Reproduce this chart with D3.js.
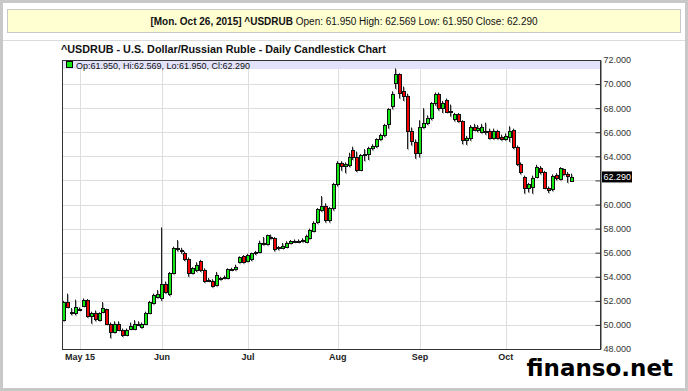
<!DOCTYPE html>
<html>
<head>
<meta charset="utf-8">
<script src="https://cdn.jsdelivr.net/npm/d3@7"></script>
<style>
  body { margin: 0; background: #fff; }
  svg text { font-family: "Liberation Sans", Arial, sans-serif; }
</style>
</head>
<body>
<script>
// trading days (weekdays) of the chart
const firstDay = "2015-04-27";
const lastDay = "2015-10-26";

const opens = [
  50.40, 51.93, 51.10, 50.95, 51.30, 51.60, 52.10, 50.70, 51.00, 50.40,
  51.10, 51.30, 50.10, 49.40, 50.10, 49.60, 49.20, 49.70, 49.70, 50.00,
  49.80, 50.10, 51.00, 51.80, 52.30, 52.20, 53.40, 52.60, 54.30, 56.35,
  56.20, 56.00, 55.50, 54.35, 54.55, 55.30, 54.55, 53.72, 53.67, 53.30,
  53.85, 53.95, 53.86, 54.62, 54.64, 55.25, 55.72, 55.33, 55.44, 55.94,
  56.08, 56.82, 56.71, 57.32, 57.19, 56.35, 56.40, 56.49, 56.82, 56.96,
  57.00, 56.96, 56.90, 57.20, 57.80, 58.57, 59.54, 59.90, 58.70, 59.68,
  61.67, 63.47, 63.20, 63.30, 64.50, 63.97, 62.90, 64.10, 64.20, 64.66,
  64.85, 65.40, 65.77, 66.70, 68.20, 70.10, 70.80, 69.45, 69.00, 66.10,
  65.20, 64.30, 66.46, 66.80, 67.15, 68.40, 69.20, 68.00, 68.70, 67.80,
  67.10, 67.50, 66.90, 65.35, 65.50, 66.40, 66.20, 66.00, 66.10, 66.10,
  65.50, 66.10, 65.63, 65.45, 65.60, 66.18, 64.80, 63.40, 62.30, 61.34,
  61.48, 62.31, 63.05, 62.67, 61.40, 61.28, 62.45, 62.10, 62.95, 62.50,
  61.95
];
const highs = [
  52.00, 52.60, 51.40, 52.10, 51.45, 52.20, 52.15, 51.10, 51.20, 51.05,
  51.90, 51.35, 50.20, 50.30, 50.30, 49.70, 49.70, 50.20, 50.40, 50.30,
  50.20, 51.10, 52.00, 52.60, 52.90, 58.10, 53.60, 54.40, 56.50, 57.05,
  56.40, 56.10, 55.60, 54.80, 55.20, 55.40, 54.70, 53.90, 53.80, 54.40,
  54.00, 54.10, 54.70, 54.75, 55.00, 55.70, 55.80, 55.90, 56.00, 56.15,
  57.00, 57.30, 57.50, 57.50, 57.30, 56.55, 56.80, 56.95, 57.05, 57.10,
  57.10, 57.20, 57.50, 58.00, 58.60, 59.70, 60.70, 60.10, 59.80, 61.80,
  63.60, 63.60, 63.50, 64.30, 64.80, 64.40, 64.20, 64.60, 64.80, 65.00,
  65.50, 65.90, 66.70, 68.00, 69.40, 71.30, 70.90, 69.80, 69.20, 66.40,
  65.40, 67.00, 68.00, 67.40, 68.50, 69.30, 69.30, 68.60, 68.80, 68.30,
  67.60, 67.60, 67.00, 65.70, 66.60, 66.70, 66.60, 66.70, 66.80, 66.30,
  66.30, 66.20, 65.80, 65.90, 66.50, 66.30, 64.90, 63.50, 62.40, 61.80,
  62.40, 63.30, 63.20, 62.80, 61.50, 62.50, 62.60, 63.10, 63.00, 62.70,
  62.569
];
const lows = [
  50.30, 51.40, 50.80, 50.80, 51.15, 51.50, 50.60, 50.10, 50.30, 50.30,
  51.00, 50.00, 48.90, 49.30, 49.50, 49.00, 49.10, 49.60, 49.60, 49.90,
  49.70, 50.00, 50.90, 51.70, 52.20, 52.00, 52.60, 52.40, 54.20, 56.10,
  55.90, 55.30, 54.00, 54.20, 54.40, 54.40, 53.50, 53.60, 53.10, 53.20,
  53.70, 53.80, 53.80, 54.50, 54.50, 55.10, 55.10, 55.20, 55.30, 55.80,
  55.95, 56.60, 56.60, 57.10, 56.10, 56.20, 56.30, 56.40, 56.70, 56.85,
  56.80, 56.85, 56.80, 57.10, 57.70, 58.40, 59.40, 58.50, 58.50, 59.50,
  61.50, 62.80, 62.60, 63.10, 63.70, 62.70, 62.80, 63.60, 63.70, 64.50,
  64.70, 65.30, 65.60, 66.30, 67.90, 69.60, 68.80, 68.60, 64.60, 64.90,
  63.80, 63.90, 66.30, 66.60, 67.00, 68.20, 67.80, 67.60, 67.60, 67.30,
  66.90, 66.80, 65.00, 64.95, 65.30, 66.10, 66.00, 65.90, 65.80, 65.40,
  65.40, 65.40, 65.30, 65.30, 65.20, 64.60, 63.20, 62.50, 60.90, 61.00,
  60.90, 62.20, 62.50, 61.30, 60.95, 61.10, 62.00, 62.00, 62.40, 61.80,
  61.95
];
const closes = [
  51.90, 51.46, 51.00, 51.50, 51.35, 52.10, 50.70, 51.00, 50.50, 51.00,
  51.40, 50.10, 49.40, 50.10, 49.60, 49.20, 49.60, 49.90, 50.10, 50.05,
  50.10, 51.00, 51.90, 52.50, 52.60, 53.40, 52.70, 54.30, 56.35, 56.30,
  56.10, 55.45, 54.30, 54.70, 54.97, 54.55, 53.67, 53.70, 53.22, 54.14,
  53.90, 54.00, 54.62, 54.66, 54.83, 55.61, 55.25, 55.80, 55.94, 56.08,
  56.82, 56.71, 57.46, 57.19, 56.27, 56.49, 56.55, 56.82, 56.96, 56.98,
  56.90, 57.05, 57.40, 57.88, 58.50, 59.60, 59.90, 58.70, 59.68, 61.67,
  63.47, 63.20, 63.40, 63.97, 63.97, 62.90, 64.10, 64.20, 64.66, 64.85,
  65.40, 65.77, 66.60, 67.90, 69.20, 70.80, 69.30, 69.00, 66.10, 65.30,
  64.30, 66.46, 66.74, 67.15, 68.40, 69.20, 68.00, 68.40, 67.70, 67.70,
  67.50, 66.90, 65.35, 65.50, 66.46, 66.20, 66.35, 66.40, 66.05, 65.50,
  66.10, 65.55, 65.43, 65.70, 66.10, 64.80, 63.40, 62.72, 61.34, 61.67,
  62.22, 63.14, 62.67, 61.40, 61.20, 62.39, 62.17, 63.05, 62.50, 62.40,
  62.29
];

const yTicks = [48, 50, 52, 54, 56, 58, 60, 62, 64, 66, 68, 70, 72];
const monthLabels = ["May 15", "Jun", "Jul", "Aug", "Sep", "Oct"];
const lastLabel = "62.290";
const infoBold = "[Mon. Oct 26, 2015] ^USDRUB";
const infoText = " Open: 61.950 High: 62.569 Low: 61.950 Close: 62.290";
const legendText = "Op:61.950, Hi:62.569, Lo:61.950, Cl:62.290";

const width = 688, height = 391;
const parse = d3.timeParse("%Y-%m-%d");
const days = d3.timeDay.range(parse(firstDay), d3.timeDay.offset(parse(lastDay), 1))
  .filter(d => d.getDay() !== 0 && d.getDay() !== 6);

const candles = days.map((d, i) => ({
  date: d, i: i, o: opens[i], h: highs[i], l: lows[i], c: closes[i]
}));

// first trading day of every month -> grid + label
const monthStarts = candles.filter((d, i) => i > 0 && d.date.getMonth() !== candles[i - 1].date.getMonth());

const plotL = 62, plotR = 600, plotT = 60, plotB = 349;
const x = d3.scaleLinear().domain([-0.6, 137.1]).range([plotL, plotR]);
const y = d3.scaleLinear().domain([48, 72]).range([plotB, plotT]);

const svg = d3.select("body").append("svg")
  .attr("width", width)
  .attr("height", height);

// frame
svg.append("rect")
  .attr("x", 1.5).attr("y", 1.5)
  .attr("width", width - 3).attr("height", height - 3)
  .attr("fill", "#fff").attr("stroke", "#c8c8c8").attr("stroke-width", 3);

// info bar
svg.append("rect")
  .attr("x", 7.5).attr("y", 9.5)
  .attr("width", 673).attr("height", 23)
  .attr("fill", "#ffffd2").attr("stroke", "#c8c8c8");
const info = svg.append("text")
  .attr("x", 344).attr("y", 25)
  .attr("text-anchor", "middle")
  .style("font-size", "10px")
  .attr("fill", "#111");
info.append("tspan").style("font-weight", "bold").text(infoBold);
info.append("tspan").text(infoText);

svg.append("line")
  .attr("x1", 3).attr("x2", width - 3)
  .attr("y1", 40.5).attr("y2", 40.5)
  .attr("stroke", "#dcdcdc");

// title
svg.append("text")
  .attr("x", 61).attr("y", 53)
  .style("font-size", "10.8px").style("font-weight", "bold")
  .attr("fill", "#111")
  .text("^USDRUB - U.S. Dollar/Russian Ruble - Daily Candlestick Chart");

const g = svg.append("g");

// grid
g.selectAll(".hgrid")
  .data(yTicks.slice(1, -1))
  .enter().append("line")
  .attr("class", "hgrid")
  .attr("x1", plotL).attr("x2", plotR)
  .attr("y1", d => Math.round(y(d)) + 0.5)
  .attr("y2", d => Math.round(y(d)) + 0.5)
  .attr("stroke", "#dedede");

g.selectAll(".vgrid")
  .data(monthStarts)
  .enter().append("line")
  .attr("class", "vgrid")
  .attr("x1", d => Math.round(x(d.i)) + 0.5)
  .attr("x2", d => Math.round(x(d.i)) + 0.5)
  .attr("y1", plotT).attr("y2", plotB)
  .attr("stroke", "#dedede");

// legend strip
g.append("rect")
  .attr("x", plotL).attr("y", plotT)
  .attr("width", plotR - plotL).attr("height", 9)
  .attr("fill", "#e2e2fa");
g.append("rect")
  .attr("x", 66.5).attr("y", 61.5)
  .attr("width", 6).attr("height", 6)
  .attr("fill", "#12e812").attr("stroke", "#000");
g.append("text")
  .attr("x", 76).attr("y", 68.5)
  .style("font-size", "9px")
  .attr("fill", "#111")
  .text(legendText);

// candles
const cx = d => Math.round(x(d.i));
const cand = g.selectAll(".candle")
  .data(candles)
  .enter().append("g")
  .attr("class", "candle");

// soft shadow
cand.append("line")
  .attr("x1", d => cx(d) + 0.5).attr("x2", d => cx(d) + 0.5)
  .attr("y1", d => y(d.h) + 1).attr("y2", d => y(d.l) + 1)
  .attr("stroke", "#b0b0b0");
cand.append("line")
  .attr("x1", d => cx(d) - 0.5).attr("x2", d => cx(d) - 0.5)
  .attr("y1", d => y(d.h)).attr("y2", d => y(d.l))
  .attr("stroke", "#222");
cand.append("rect")
  .attr("x", d => cx(d) - 1.5)
  .attr("y", d => Math.round(y(Math.max(d.o, d.c))) + 0.5)
  .attr("width", 3)
  .attr("height", d => Math.max(1, Math.round(y(Math.min(d.o, d.c))) - Math.round(y(Math.max(d.o, d.c)))))
  .attr("fill", d => d.c >= d.o ? "#12e812" : "#f00000")
  .attr("stroke", "#111");

// plot border
g.append("rect")
  .attr("x", plotL + 0.5).attr("y", plotT + 0.5)
  .attr("width", plotR - plotL).attr("height", plotB - plotT)
  .attr("fill", "none").attr("stroke", "#333");

// y axis on the right
const yAxis = svg.append("g")
  .attr("transform", `translate(${plotR + 0.5},0)`)
  .call(d3.axisRight(y).tickValues(yTicks).tickFormat(d3.format(".3f"))
    .tickSizeInner(-5).tickSizeOuter(0).tickPadding(3));
yAxis.select(".domain").attr("stroke", "#333");
yAxis.selectAll(".tick line").attr("stroke", "#333");
yAxis.selectAll(".tick text")
  .style("font-size", "9px")
  .attr("fill", "#333");
// the last-value marker sits over the 62.000 label
yAxis.selectAll(".tick").filter(d => d === 62).select("text").remove();

// last value marker
const lastY = y(closes[closes.length - 1]);
svg.append("rect")
  .attr("x", plotR + 2).attr("y", lastY - 5.5)
  .attr("width", 30).attr("height", 11)
  .attr("fill", "#000");
svg.append("text")
  .attr("x", plotR + 3.5).attr("y", lastY + 3)
  .style("font-size", "9px")
  .attr("fill", "#fff")
  .text(lastLabel);

// month labels
svg.selectAll(".mlabel")
  .data(monthStarts)
  .enter().append("text")
  .attr("class", "mlabel")
  .attr("x", d => x(d.i))
  .attr("y", 360)
  .attr("text-anchor", "middle")
  .style("font-size", "9px").style("font-weight", "bold")
  .attr("fill", "#222")
  .text((d, i) => monthLabels[i]);

// watermark
svg.append("text")
  .attr("x", 673).attr("y", 376)
  .attr("text-anchor", "end")
  .style("font-family", "'DejaVu Sans', sans-serif")
  .style("font-size", "23px").style("font-weight", "bold")
  .attr("fill", "#000")
  .text("finanso.net");
</script>
</body>
</html>
